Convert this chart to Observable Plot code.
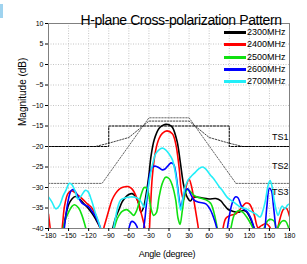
<!DOCTYPE html>
<html><head><meta charset="utf-8">
<script src="https://cdn.jsdelivr.net/npm/d3@7"></script>
<script src="https://cdn.jsdelivr.net/npm/@observablehq/plot@0.6"></script>
<style>
body{margin:0;background:#fff;}
#wrap{position:relative;width:307px;height:264px;font-family:"Liberation Sans",Arial,sans-serif;}
#tab{position:absolute;left:0;top:4px;width:3px;height:14px;background:#9fd3ef;}
#legend{position:absolute;left:224px;top:26px;}
.item{position:absolute;left:0;height:12px;white-space:nowrap;font-size:9px;line-height:12px;color:#000}
.sw{position:absolute;left:0;top:5px;width:22px;height:3px}
.lb{position:absolute;left:23px;top:0}
</style></head><body>
<div id="wrap"><div id="tab"></div><div id="legend"></div></div>
<script>
const title = "H-plane Cross-polarization Pattern";
const xLabel = "Angle (degree)";
const yLabel = "Magnitude (dB)";
const xTicks = [-180,-150,-120,-90,-60,-30,0,30,60,90,120,150,180];
const yTicks = [10,5,0,-5,-10,-15,-20,-25,-30,-35,-40];
const seriesNames = ["2300MHz","2400MHz","2500MHz","2600MHz","2700MHz"];
const seriesColors = ["#000000","#ff0000","#10e010","#0000ff","#22eef8"];

const s2300 = [[-180,-47],[-165,-47],[-160,-43],[-155,-37.5],[-150,-34.2],[-145,-32.8],[-140,-32.2],[-135,-32.6],[-128,-33.8],[-122,-34.8],[-115,-36.3],[-110,-37.6],[-102,-40.2],[-96,-44],[-90,-43],[-85,-40.5],[-80,-37.5],[-75,-35.5],[-70,-33.5],[-65,-32.4],[-60,-31.7],[-55,-31.5],[-50,-32.2],[-45,-34],[-42,-36],[-38,-34.8],[-34,-31.5],[-30,-27],[-27,-22.5],[-22,-18.3],[-15,-15.6],[-10,-14.9],[-5,-14.6],[0,-14.7],[5,-15.3],[12,-18.7],[17,-24],[22,-29.5],[27,-32.3],[32,-33.3],[36,-32.4],[42,-32.3],[50,-32.6],[60,-32.8],[70,-32.7],[77,-33.2],[82,-34.2],[88,-35.3],[95,-35.8],[100,-36],[105,-36],[110,-35.6],[115,-35.8],[120,-37],[125,-39],[130,-41.5],[135,-45],[180,-47]];
const s2400 = [[-180,-36.5],[-177,-40.5],[-172,-46],[-162,-43],[-159,-39],[-156,-34.5],[-151,-31.5],[-146,-30.8],[-141,-31.2],[-135,-32],[-128,-33],[-122,-34],[-116,-34.8],[-110,-36.5],[-105,-38.8],[-100,-41],[-96,-39],[-90,-35.6],[-85,-33],[-80,-31.5],[-75,-30.5],[-70,-30],[-65,-29.8],[-60,-29.8],[-55,-30.4],[-50,-31.8],[-45,-34.2],[-40,-37.2],[-35,-40.5],[-31,-43],[-28,-36],[-25,-27.5],[-20,-21],[-15,-18.1],[-10,-16.8],[-3,-16.2],[5,-16.9],[10,-19.3],[15,-25],[19,-31.5],[22,-33],[26,-29.5],[30,-28],[34,-30],[38,-34],[43,-39],[48,-44],[60,-48],[75,-45],[80,-40.5],[85,-37.5],[92,-36.8],[100,-36.4],[108,-35],[115,-33.8],[120,-34],[127,-36.5],[133,-39.8],[138,-39.3],[145,-38.8],[150,-39.5],[156,-41.5],[161,-40.5],[166,-37.5],[171,-35.3],[175,-35],[180,-37]];
const s2500 = [[-180,-48],[-165,-46],[-160,-41.5],[-155,-38],[-150,-36],[-145,-34.6],[-141,-34.2],[-135,-35],[-130,-36.8],[-125,-39.5],[-120,-42.5],[-110,-48],[-95,-48],[-86,-42],[-82,-40],[-77,-37.5],[-70,-35.8],[-63,-35.4],[-58,-36],[-53,-36.8],[-48,-35.5],[-42,-32],[-37,-30],[-33,-30.2],[-30,-32],[-27,-35],[-23,-36.8],[-19,-36.2],[-15,-32.5],[-10,-29],[-5,-27.5],[0,-27.8],[5,-29.5],[10,-33],[13.5,-37.5],[16.5,-39],[20,-35.5],[24,-31.5],[28,-30.5],[32,-31],[38,-32],[45,-32.5],[55,-33],[62,-33.8],[67,-36],[71,-39],[75,-42.5],[82,-47],[88,-44],[93,-39.5],[98,-36.5],[104,-35.6],[110,-36],[116,-37.2],[122,-38.8],[127,-40.5],[132,-43],[138,-42],[143,-39.5],[148,-38],[153,-37.8],[157,-38.2],[161,-40.3],[165,-39],[169,-38.2],[174,-38.2],[178,-39.5],[180,-41]];
const s2600 = [[-180,-48],[-165,-47],[-158,-42],[-155,-38],[-151,-33.5],[-147,-31],[-144,-30.5],[-140,-31],[-135,-32.5],[-130,-33.8],[-125,-34.3],[-120,-34.7],[-115,-35.8],[-110,-37],[-105,-38.8],[-100,-41],[-95,-45],[-75,-47],[-65,-43],[-60,-40],[-56,-38.3],[-52,-38.5],[-48,-39.5],[-44,-41.5],[-40,-41.5],[-37,-39],[-34,-34.5],[-31,-29.5],[-28,-26.2],[-25,-25.1],[-20,-24.8],[-15,-25.2],[-10,-25.7],[-6,-25.5],[-2,-24.8],[3,-24],[7,-24.4],[10,-26.3],[13,-30],[16,-33.8],[18,-34.8],[21,-32.5],[25,-30.6],[28,-30.3],[32,-31.5],[37,-33],[45,-33.6],[55,-34],[62,-35.5],[68,-38],[73,-41],[78,-45],[84,-43],[89,-38],[94,-34],[99,-32.3],[103,-32.5],[108,-34.5],[112,-35.3],[117,-36],[122,-37.4],[127,-39.8],[132,-43],[139,-44],[143,-40.5],[146,-35],[150,-30.2],[153,-30.8],[156,-34.5],[159,-39],[163,-44],[180,-48]];
const s2700 = [[-180,-32.3],[-175,-33.5],[-169,-35.2],[-164,-34.5],[-158,-32],[-154,-30.7],[-149,-29],[-145,-29.3],[-140,-31],[-136,-32.8],[-131,-32],[-125,-30.7],[-121,-31],[-116,-33],[-110,-36.2],[-105,-38.5],[-101,-41],[-96,-45],[-90,-46],[-84,-41],[-80,-37.5],[-76,-34.5],[-72,-33],[-65,-32.5],[-58,-32.3],[-50,-32.4],[-44,-33],[-40,-34],[-37,-34.8],[-33,-32],[-28,-27],[-24,-24],[-20,-21.8],[-15,-20.8],[-10,-20.4],[-5,-20.8],[0,-21.8],[5,-23.2],[9,-26],[12.5,-29.9],[15,-33.5],[17.5,-35.5],[20,-33.5],[24,-30],[28,-28.3],[33,-27.3],[38,-26.5],[44,-25.5],[50,-25],[55,-25.5],[62,-27],[67,-27.9],[75,-29.8],[80,-30.8],[87,-32.4],[95,-33.4],[100,-34],[107,-34.8],[115,-35.2],[122,-35.8],[130,-36.5],[136,-37.2],[140,-35.8],[144,-33.2],[148,-29.5],[151,-28.3],[154,-29.8],[157,-33],[160,-35.5],[163,-36.8],[166,-35.5],[169,-34.5],[173,-35.2],[177,-34.3],[180,-34]];
const seriesData = [s2300, s2400, s2500, s2600, s2700];

// spec masks
const ts1 = [[-180,-20],[-90,-20],[-90,-15],[90,-15],[90,-20],[180,-20]];
const ts2 = [[-180,-20],[-110,-20],[-90,-19.2],[-60,-17.8],[-30,-13.8],[30,-13.8],[60,-17.8],[90,-19.2],[110,-20],[180,-20]];
const ts3 = [[-180,-29],[-100,-29],[-30,-13],[30,-13],[100,-29],[180,-29]];
const tsNames = ["TS1","TS2","TS3"];
const tsLabelDb = [-17.8,-24.9,-31.2];

const font = '"Liberation Sans", Arial, sans-serif';

const seriesMarks = seriesData.map((s, i) =>
  Plot.line(s, {x: d => d[0], y: d => d[1], stroke: seriesColors[i], strokeWidth: 1.6, curve: "catmull-rom", clip: true})
);

const chart = Plot.plot({
  width: 307, height: 264,
  marginLeft: 48, marginRight: 18, marginTop: 23, marginBottom: 36,
  style: {fontFamily: font, fontSize: "7px", background: "transparent", color: "#000"},
  x: {domain: [-180, 180]},
  y: {domain: [-40, 10]},
  marks: [
    Plot.gridX(xTicks, {stroke: "#c4c4c4", strokeOpacity: 1, strokeDasharray: "1,1.5"}),
    Plot.gridY(yTicks, {stroke: "#c4c4c4", strokeOpacity: 1, strokeDasharray: "1,1.5"}),
    Plot.line(ts3, {x: d => d[0], y: d => d[1], stroke: "#666", strokeWidth: 1, strokeDasharray: "1.5,1.5"}),
    Plot.line(ts2, {x: d => d[0], y: d => d[1], stroke: "#444", strokeWidth: 1, strokeDasharray: "1.5,1.5"}),
    Plot.line(ts1, {x: d => d[0], y: d => d[1], stroke: "#000", strokeWidth: 1, strokeDasharray: "2,1.5"}),
    ...seriesMarks,
    Plot.frame({stroke: "#808080"}),
    Plot.axisX(xTicks, {tickSize: 3, tickPadding: 2, fontSize: 7, label: null}),
    Plot.axisY(yTicks, {tickSize: 3, tickPadding: 2, fontSize: 7, label: null}),
    Plot.text(tsNames, {y: (d, i) => tsLabelDb[i], frameAnchor: "right", textAnchor: "end", dx: -1, fontSize: 9}),
    Plot.text([title], {frameAnchor: "top", dy: -8, dx: 12, fontSize: 14, className: "ttl"}),
    Plot.text([yLabel], {frameAnchor: "left", rotate: -90, dx: -26, fontSize: 10}),
    Plot.text([xLabel], {frameAnchor: "bottom", dy: 28, dx: -2, fontSize: 9, className: "xl"})
  ]
});
d3.select(chart).selectAll(".ttl text").style("letter-spacing", "-0.4px");
d3.select(chart).selectAll(".xl text").style("letter-spacing", "-0.2px");
const wrap = document.getElementById("wrap");
wrap.insertBefore(chart, wrap.firstChild);
chart.style.position = "absolute";
chart.style.left = "0";
chart.style.top = "0";

const legend = d3.select("#legend");
seriesNames.forEach((n, i) => {
  const it = legend.append("div").attr("class", "item").style("top", (i * 12.25) + "px");
  it.append("div").attr("class", "sw").style("background", seriesColors[i]);
  it.append("div").attr("class", "lb").text(n);
});
</script>
</body></html>
